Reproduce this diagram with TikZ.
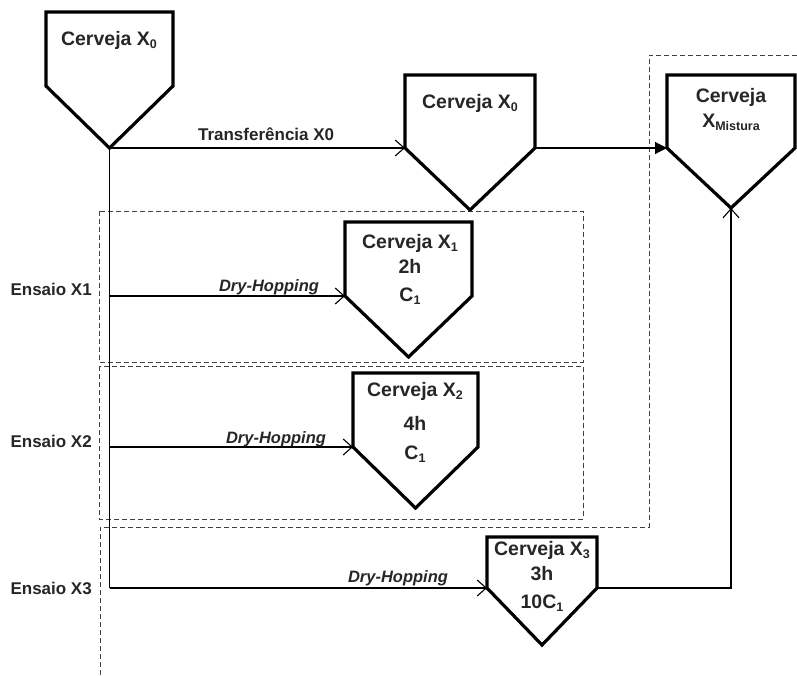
\documentclass[tikz,border=0pt]{standalone}
\usepackage{fontspec}
\setmainfont{Liberation Sans}
\usetikzlibrary{arrows.meta}
\newcommand\sbs[1]{\raisebox{-0.3ex}{\fontsize{12.5}{12.5}\selectfont #1}}
\newcommand\vessel[6]{%
  \coordinate (#1-tl) at (#2,#4);
  \coordinate (#1-tr) at (#3,#4);
  \coordinate (#1-sr) at (#3,#5);
  \coordinate (#1-sl) at (#2,#5);
  \coordinate (#1-p) at ({(#2+#3)/2},#6);
  \draw[vessel] (#1-tl) -- (#1-tr) -- (#1-sr) -- (#1-p) -- (#1-sl) -- cycle;
}
\tikzset{
  vessel/.style={line width=3.2pt, line join=miter, draw=black},
  conn/.style={line width=1.1pt, draw=black},
  openarr/.style={-{Straight Barb[length=9pt,width=16pt]}},
  fillarr/.style={-{Triangle[length=12pt,width=12pt]}},
  dbox/.style={dashed, dash pattern=on 5pt off 3pt, line width=0.8pt, draw=black!75},
  cv/.style={font=\fontsize{19.5}{21}\selectfont\bfseries, text=black!85, inner sep=0pt},
  lab/.style={font=\fontsize{17}{19}\selectfont\bfseries, text=black!85, inner sep=0pt},
  dh/.style={font=\fontsize{16.5}{18}\selectfont\bfseries\itshape, text=black!85, inner sep=0pt},
}
\begin{document}
\begin{tikzpicture}[x=1pt,y=-1pt]
\useasboundingbox (0,0) rectangle (797,675);
% dashed frames
\coordinate (b1a) at (99,211); \coordinate (b1b) at (583,362);
\coordinate (b2a) at (99,366); \coordinate (b2b) at (583,519);
\draw[dbox] (b1a) rectangle (b1b);
\draw[dbox] (b2a) rectangle (b2b);
\coordinate (r1) at (797,55); \coordinate (r2) at (649,55);
\coordinate (r3) at (649,527); \coordinate (r4) at (100,527);
\coordinate (r5) at (100,675);
\draw[dbox] (r1) -- (r2) -- (r3) -- (r4) -- (r5);
% vessels
\vessel{A}{46}{173}{12}{86}{148}
\vessel{B}{405}{535}{75}{148}{210}
\vessel{M}{667}{795}{75}{148}{208}
\vessel{C1}{345}{472}{222}{296}{357}
\vessel{C2}{353}{478}{373}{447}{508}
\vessel{C3}{487}{597}{537}{588}{645}
% texts in vessels
\node[cv] (tA) at (109,40) {Cerveja X\sbs{0}};
\node[cv] (tB) at (470,103) {Cerveja X\sbs{0}};
\node[cv] (tM1) at (731,97) {Cerveja};
\node[cv] (tM2) at (731,122) {X\sbs{Mistura}};
\node[cv] (tC1a) at (410,243) {Cerveja X\sbs{1}};
\node[cv] (tC1b) at (410,266) {2h};
\node[cv] (tC1c) at (410,296) {C\sbs{1}};
\node[cv] (tC2a) at (415,391) {Cerveja X\sbs{2}};
\node[cv] (tC2b) at (415,423) {4h};
\node[cv] (tC2c) at (415,454) {C\sbs{1}};
\node[cv] (tC3a) at (542,550) {Cerveja X\sbs{3}};
\node[cv] (tC3b) at (542,574) {3h};
\node[cv] (tC3c) at (542,603) {10C\sbs{1}};
% connectors
\draw[conn,openarr] (A-p) -- node[lab, above=7pt, pos=0.53] (tTr) {Transferência X0} (B-sl);
\draw[conn,fillarr] (B-sr) -- (M-sl);
\draw[conn] (A-p) -- (A-p |- C3-sl);
\draw[conn,openarr] (A-p |- C3-sl) -- (C3-sl);
\draw[conn,openarr] (A-p |- C1-sl) -- (C1-sl);
\draw[conn,openarr] (A-p |- C2-sl) -- (C2-sl);
\draw[conn,openarr] (C3-sr) -- (C3-sr -| M-p) -- (M-p);
% labels
\node[dh] (dh1) at (269,287) {Dry-Hopping};
\node[dh] (dh2) at (276,439) {Dry-Hopping};
\node[dh] (dh3) at (398,578) {Dry-Hopping};
\node[lab, anchor=east] (e1) at (92,289) {Ensaio X1};
\node[lab, anchor=east] (e2) at (92,441) {Ensaio X2};
\node[lab, anchor=east] (e3) at (92,588) {Ensaio X3};
\end{tikzpicture}
\end{document}
